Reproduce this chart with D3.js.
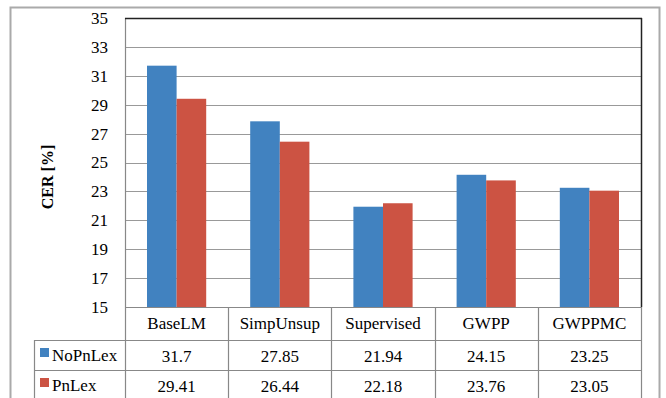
<!DOCTYPE html>
<html>
<head>
<meta charset="utf-8">
<script src="https://cdn.jsdelivr.net/npm/d3@7"></script>
<style>
  html, body { margin: 0; padding: 0; background: #fff; }
  svg { display: block; }
</style>
</head>
<body>
<svg id="chart" width="666" height="398"></svg>
<script>
const categories = ["BaseLM", "SimpUnsup", "Supervised", "GWPP", "GWPPMC"];
const seriesNames = ["NoPnLex", "PnLex"];
const noPnLex = [31.7, 27.85, 21.94, 24.15, 23.25];
const pnLex = [29.41, 26.44, 22.18, 23.76, 23.05];
const yTicks = [15, 17, 19, 21, 23, 25, 27, 29, 31, 33, 35];
const yLabel = "CER [%]";
const colors = ["#4182c0", "#cc5343"];
const FONT = '"Liberation Serif"';

const seriesValues = [noPnLex, pnLex];
const svg = d3.select("#chart");

const plot = { left: 125, right: 641, top: 18, bottom: 307 };
const legendLeft = 34;
const rowH = 30;

// outer frame
svg.append("rect").attr("x", 10.5).attr("y", 7.5).attr("width", 649).attr("height", 400)
  .attr("fill", "none").attr("stroke", "#aaaaaa").attr("stroke-width", 2);

const y = d3.scaleLinear().domain([15, 35]).range([plot.bottom, plot.top]);
const x0 = d3.scaleBand().domain(categories).range([plot.left, plot.right]).padding(0);
const x1 = d3.scaleBand().domain(seriesNames).range([22, x0.bandwidth() - 22]).padding(0);

// gridlines
svg.append("g").selectAll("line").data(yTicks.filter(t => t > 15 && t < 35)).join("line")
  .attr("x1", plot.left).attr("x2", plot.right)
  .attr("y1", d => Math.round(y(d)) + 0.5).attr("y2", d => Math.round(y(d)) + 0.5)
  .attr("stroke", "#999").attr("stroke-width", 1.2);

// y axis labels
const yAxis = d3.axisLeft(y).tickValues(yTicks).tickSize(0).tickPadding(0);
const ya = svg.append("g").attr("transform", `translate(108,0)`).call(yAxis);
ya.select(".domain").remove();
ya.attr("font-family", null).attr("font-size", null);
ya.selectAll("text").style("font-size", "17px").style("font-family", FONT).attr("fill", "#000");

// left plot edge
svg.append("line").attr("x1", plot.left + 0.5).attr("x2", plot.left + 0.5)
  .attr("y1", plot.top).attr("y2", 398).attr("stroke", "#888").attr("stroke-width", 1.2);

// bars
const groups = svg.append("g").selectAll("g").data(categories).join("g")
  .attr("transform", d => `translate(${x0(d)},0)`);
groups.selectAll("rect").data((d, i) => seriesNames.map((s, j) => ({ s, v: seriesValues[j][i], j })))
  .join("rect")
  .attr("x", d => x1(d.s)).attr("width", x1.bandwidth())
  .attr("y", d => y(d.v)).attr("height", d => y(15) - y(d.v))
  .attr("fill", d => colors[d.j]);

// top & right dark border
svg.append("line").attr("x1", plot.left).attr("x2", plot.right + 1)
  .attr("y1", plot.top + 0.5).attr("y2", plot.top + 0.5).attr("stroke", "#222").attr("stroke-width", 1.5);
svg.append("line").attr("x1", plot.right + 0.5).attr("x2", plot.right + 0.5)
  .attr("y1", plot.top).attr("y2", plot.bottom).attr("stroke", "#222").attr("stroke-width", 1.5);

// y label
svg.append("text").attr("transform", "translate(53,177) rotate(-90)")
  .attr("text-anchor", "middle").style("font-family", FONT).style("font-size", "16px")
  .style("font-weight", "bold").text(yLabel);

// data table
const tbl = svg.append("g");
const lineColor = "#888";
const hLines = [
  { y: plot.bottom, x1: plot.left, x2: plot.right + 1 },
  { y: plot.bottom + rowH + 3, x1: legendLeft, x2: plot.right + 1 },
  { y: plot.bottom + rowH * 2 + 3, x1: legendLeft, x2: plot.right + 1 }
];
tbl.selectAll("line.h").data(hLines).join("line").attr("class", "h")
  .attr("x1", d => d.x1).attr("x2", d => d.x2)
  .attr("y1", d => d.y + 0.5).attr("y2", d => d.y + 0.5)
  .attr("stroke", lineColor).attr("stroke-width", 1.2);
const vx = categories.map(c => x0(c) + x0.bandwidth());
tbl.selectAll("line.v").data(vx).join("line").attr("class", "v")
  .attr("x1", d => Math.round(d) + 0.5).attr("x2", d => Math.round(d) + 0.5)
  .attr("y1", plot.bottom).attr("y2", 398)
  .attr("stroke", lineColor).attr("stroke-width", 1.2);
tbl.append("line").attr("x1", legendLeft + 0.5).attr("x2", legendLeft + 0.5)
  .attr("y1", plot.bottom + rowH + 3).attr("y2", 398).attr("stroke", lineColor).attr("stroke-width", 1.2);

tbl.selectAll("text.cat").data(categories).join("text").attr("class", "cat")
  .attr("x", d => x0(d) + x0.bandwidth() / 2).attr("y", plot.bottom + 22)
  .attr("text-anchor", "middle").style("font-family", FONT).style("font-size", "17px").text(d => d);

seriesNames.forEach((s, j) => {
  const rowTop = plot.bottom + rowH + 3 + j * rowH;
  tbl.append("rect").attr("x", 40).attr("y", rowTop + 8).attr("width", 9).attr("height", 9)
    .attr("fill", colors[j]);
  tbl.append("text").attr("x", 52).attr("y", rowTop + 21)
    .style("font-family", FONT).style("font-size", "17px").text(s);
  tbl.selectAll(`text.v${j}`).data(categories).join("text").attr("class", `v${j}`)
    .attr("x", d => x0(d) + x0.bandwidth() / 2).attr("y", rowTop + 22)
    .attr("text-anchor", "middle").style("font-family", FONT).style("font-size", "17px")
    .text((d, i) => seriesValues[j][i]);
});
</script>
</body>
</html>
